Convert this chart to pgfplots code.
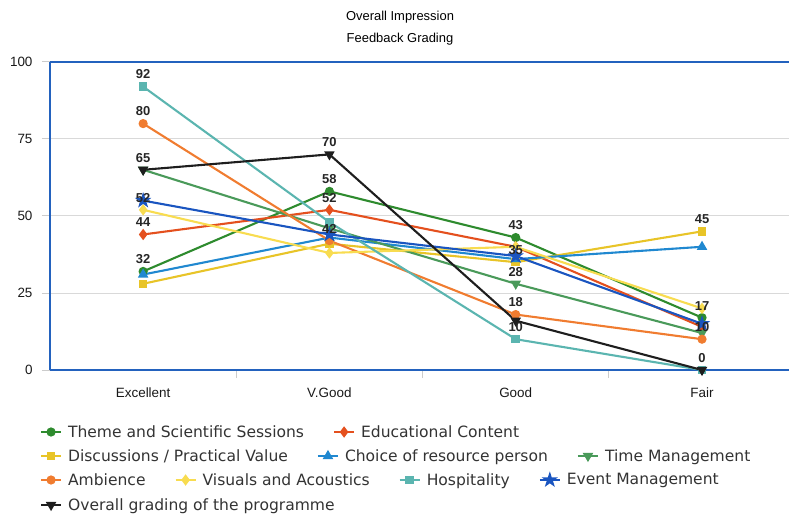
\documentclass[border=0pt]{standalone}
\usepackage{pgfplots}
\pgfplotsset{compat=1.18}
\usepackage{fontspec}
\setmainfont{Liberation Sans}
\newfontfamily\legfont{DejaVu Sans}

\definecolor{cTheme}{HTML}{2E8B2E}
\definecolor{cEdu}{HTML}{E4501E}
\definecolor{cDisc}{HTML}{E8C428}
\definecolor{cChoice}{HTML}{2088D0}
\definecolor{cTime}{HTML}{4A9A5A}
\definecolor{cAmb}{HTML}{F07C30}
\definecolor{cVis}{HTML}{F8DC50}
\definecolor{cHosp}{HTML}{5BB5B0}
\definecolor{cEvent}{HTML}{1A55C0}
\definecolor{cOver}{HTML}{1E1E1E}
\definecolor{cAxis}{HTML}{2362BE}

\pgfdeclareplotmark{fstar}{%
  \pgfpathmoveto{\pgfpointpolar{90}{1.3\pgfplotmarksize}}%
  \pgfpathlineto{\pgfpointpolar{126}{0.5\pgfplotmarksize}}%
  \pgfpathlineto{\pgfpointpolar{162}{1.3\pgfplotmarksize}}%
  \pgfpathlineto{\pgfpointpolar{198}{0.5\pgfplotmarksize}}%
  \pgfpathlineto{\pgfpointpolar{234}{1.3\pgfplotmarksize}}%
  \pgfpathlineto{\pgfpointpolar{270}{0.5\pgfplotmarksize}}%
  \pgfpathlineto{\pgfpointpolar{306}{1.3\pgfplotmarksize}}%
  \pgfpathlineto{\pgfpointpolar{342}{0.5\pgfplotmarksize}}%
  \pgfpathlineto{\pgfpointpolar{18}{1.3\pgfplotmarksize}}%
  \pgfpathlineto{\pgfpointpolar{54}{0.5\pgfplotmarksize}}%
  \pgfpathclose
  \pgfusepathqfillstroke}

\pgfplotsset{
  sbase/.style={line width=2.1bp, mark size=3.5bp, mark options={solid}},
  sTheme/.style={sbase, color=cTheme, mark=*},
  sEdu/.style={sbase, color=cEdu, mark=diamond*, mark size=4bp},
  sDisc/.style={sbase, color=cDisc, mark=square*, mark size=3.2bp},
  sChoice/.style={sbase, color=cChoice, mark=triangle*, mark size=4bp},
  sTime/.style={sbase, color=cTime, mark=triangle*, mark size=4bp, mark options={rotate=180}},
  sAmb/.style={sbase, color=cAmb, mark=*},
  sVis/.style={sbase, color=cVis, mark=diamond*, mark size=4bp},
  sHosp/.style={sbase, color=cHosp, mark=square*, mark size=3.2bp},
  sEvent/.style={sbase, color=cEvent, mark=fstar, mark size=4bp},
  sOver/.style={sbase, color=cOver, mark=triangle*, mark size=4bp, mark options={rotate=180}},
  legrow/.style={hide axis, scale only axis, width=10bp, height=10bp,
    xmin=0, xmax=1, ymin=0, ymax=1, anchor=west,
    legend columns=-1,
    legend style={at={(0,0.5)}, anchor=west, draw=none, fill=none,
      inner sep=0pt, outer sep=0pt,
      font=\legfont\fontsize{15.6}{18}\selectfont, text=black!80,
      /tikz/every odd column/.append style={column sep=4bp},
      /tikz/every even column/.append style={column sep=27bp}},
    legend image code/.code={\draw[mark repeat=2, mark phase=2, ##1]
      plot coordinates {(0bp,0bp) (10bp,0bp) (20bp,0bp)};}},
}

\begin{document}
\begin{tikzpicture}
\path[use as bounding box] (-50bp,-146bp) rectangle (739bp,370bp);
\begin{axis}[
  name=main, at={(0,0)}, anchor=south west,
  scale only axis, width=739bp, height=308bp,
  xmin=-0.5, xmax=3.467, ymin=0, ymax=100,
  axis x line=box, axis y line=left,
  axis line style={-, draw=cAxis, line width=2.4bp},
  xtick={0,1,2,3}, xticklabels={Excellent,V.Good,Good,Fair},
  ytick={0,25,50,75,100},
  xtick pos=left, ytick pos=left,
  ymajorgrids, grid style={draw=gray!30, line width=1bp},
  tick align=outside, major tick length=8bp, minor tick length=8bp,
  tick style={draw=gray!40, line width=1bp},
  every major x tick/.append style={draw=none},
  minor xtick={0.5,1.5,2.5},
  ticklabel style={font=\fontsize{13.5}{16}\selectfont, text=black!90},
  /pgf/number format/assume math mode=true,
  xticklabel style={yshift=-6bp},
  yticklabel style={xshift=-6bp},
  clip=false,
]
\addplot[sTheme]  coordinates {(0,32) (1,58) (2,43) (3,17)};
\addplot[sEdu]    coordinates {(0,44) (1,52) (2,40) (3,14)};
\addplot[sDisc]   coordinates {(0,28) (1,41) (2,35) (3,45)};
\addplot[sChoice] coordinates {(0,31) (1,43) (2,36) (3,40)};
\addplot[sTime]   coordinates {(0,65) (1,46) (2,28) (3,12)};
\addplot[sAmb]    coordinates {(0,80) (1,42) (2,18) (3,10)};
\addplot[sVis]    coordinates {(0,52) (1,38) (2,40) (3,20)};
\addplot[sHosp]   coordinates {(0,92) (1,48) (2,10) (3,0)};
\addplot[sEvent]  coordinates {(0,55) (1,44) (2,37) (3,15)};
\addplot[sOver]   coordinates {(0,65) (1,70) (2,16) (3,0)};
\addplot[draw=none, mark=none, forget plot, nodes near coords,
  point meta=explicit symbolic,
  nodes near coords style={font=\bfseries\fontsize{13}{14}\selectfont, text=black!85, yshift=4bp}]
  coordinates {
  (0,92) [92] (0,80) [80] (0,65) [65] (0,52) [52] (0,44) [44] (0,32) [32]
  (1,70) [70] (1,58) [58] (1,52) [52] (1,42) [42]
  (2,43) [43] (2,35) [35] (2,28) [28] (2,18) [18] (2,10) [10]
  (3,45) [45] (3,17) [17] (3,10) [10] (3,0) [0]
  };
\end{axis}
\node[anchor=base, font=\fontsize{13}{16}\selectfont] at (350bp,349bp) {Overall Impression};
\node[anchor=base, font=\fontsize{13}{16}\selectfont] at (350bp,327bp) {Feedback Grading};

\begin{axis}[legrow, at={(-10bp,-62bp)}]
\addlegendimage{sTheme}\addlegendentry{Theme and Scientific Sessions}
\addlegendimage{sEdu}\addlegendentry{Educational Content}
\end{axis}
\begin{axis}[legrow, at={(-10bp,-86bp)}]
\addlegendimage{sDisc}\addlegendentry{Discussions / Practical Value}
\addlegendimage{sChoice}\addlegendentry{Choice of resource person}
\addlegendimage{sTime}\addlegendentry{Time Management}
\end{axis}
\begin{axis}[legrow, at={(-10bp,-110bp)}]
\addlegendimage{sAmb}\addlegendentry{Ambience}
\addlegendimage{sVis}\addlegendentry{Visuals and Acoustics}
\addlegendimage{sHosp}\addlegendentry{Hospitality}
\addlegendimage{sEvent}\addlegendentry{Event Management}
\end{axis}
\begin{axis}[legrow, at={(-10bp,-135bp)}]
\addlegendimage{sOver}\addlegendentry{Overall grading of the programme}
\end{axis}
\end{tikzpicture}
\end{document}
